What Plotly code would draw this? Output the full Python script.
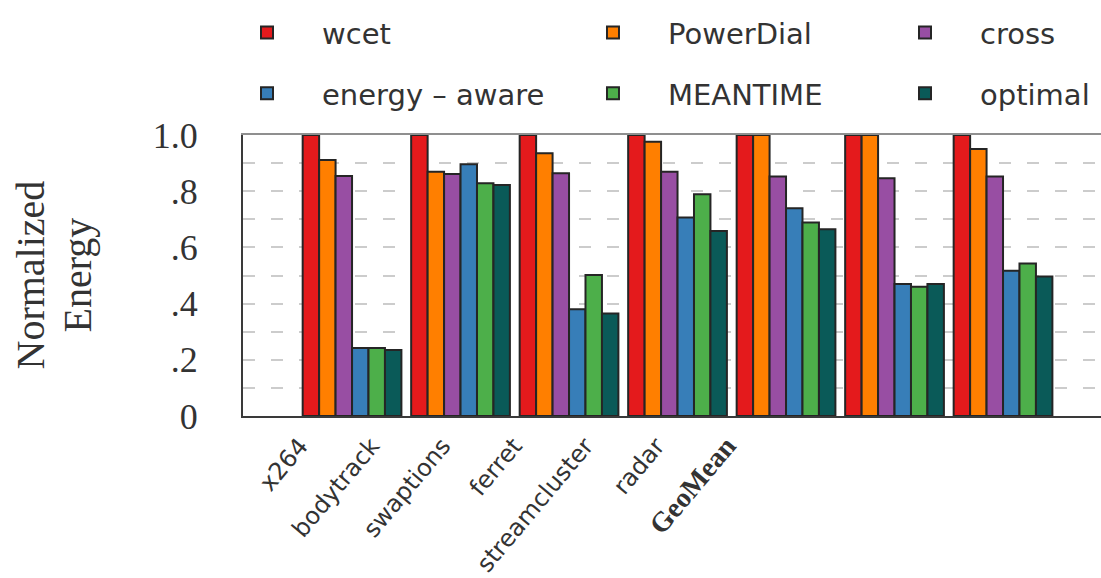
import plotly.graph_objects as go

categories = ["x264", "bodytrack", "swaptions", "ferret", "streamcluster", "radar", "GeoMean"]
tick_labels = ["x264", "bodytrack", "swaptions", "ferret", "streamcluster", "radar",
               "<span style=\"font-family:'Liberation Serif';font-size:28px\"><b>GeoMean</b></span>"]

series_names = ["wcet", "PowerDial", "cross", "energy \u2013 aware", "MEANTIME", "optimal"]
wcet = [1.0, 1.0, 1.0, 1.0, 1.0, 1.0, 1.0]
powerdial = [0.911, 0.869, 0.935, 0.976, 1.0, 1.0, 0.950]
cross = [0.854, 0.861, 0.864, 0.869, 0.852, 0.846, 0.852]
energy_aware = [0.242, 0.896, 0.380, 0.706, 0.739, 0.470, 0.517]
meantime = [0.242, 0.828, 0.502, 0.789, 0.689, 0.460, 0.543]
optimal = [0.235, 0.822, 0.365, 0.658, 0.665, 0.470, 0.496]
series_values = [wcet, powerdial, cross, energy_aware, meantime, optimal]
colors = ["#e41a1c", "#ff7f00", "#984ea3", "#377eb8", "#4daf4a", "#0a5a58"]
legend_ids = ["legend", "legend2", "legend3", "legend", "legend2", "legend3"]

y_ticks = [0, 0.2, 0.4, 0.6, 0.8, 1.0]
y_ticktext = ["0", ".2", ".4", ".6", ".8", "1.0"]
y_title_lines = ["Normalized", "Energy"]

xpos = list(range(len(categories)))

fig = go.Figure()
for name, vals, col, lg in zip(series_names, series_values, colors, legend_ids):
    fig.add_trace(go.Bar(
        x=xpos, y=vals, name=name, legend=lg, legendgroup=name,
        marker=dict(color=col, line=dict(color="#252525", width=2)),
    ))

# carriers for the tick-label axis and the top frame axis (no visible marks)
fig.add_trace(go.Scatter(x=xpos, y=[None] * len(xpos), xaxis="x2", mode="markers",
                         showlegend=False, hoverinfo="skip"))
fig.add_trace(go.Scatter(x=xpos, y=[None] * len(xpos), xaxis="x3", mode="markers",
                         showlegend=False, hoverinfo="skip"))

SERIF = "Liberation Serif"
SANS = "DejaVu Sans"
grid_style = dict(gridcolor="#cccccc", griddash="12px,16px", gridwidth=1.5)

legend_common = dict(
    y=1.455, yanchor="top", xanchor="left", orientation="v",
    bgcolor="rgba(0,0,0,0)", font=dict(family=SANS, size=29, color="#333333"),
    tracegroupgap=20, itemwidth=100,
)

fig.update_layout(
    width=1101, height=578,
    margin=dict(l=243, r=0, t=135, b=162, autoexpand=False),
    paper_bgcolor="white", plot_bgcolor="white",
    barmode="group", bargap=0.09, bargroupgap=0.0,
    legend=dict(x=-0.0361, **legend_common),
    legend2=dict(x=0.3671, **legend_common),
    legend3=dict(x=0.7308, **legend_common),
    xaxis=dict(
        range=[-1.005, 6.903], showticklabels=False, ticks="", automargin=False,
        showline=True, mirror=False, linecolor="#3a3a3a", linewidth=2,
        showgrid=False, zeroline=False,
    ),
    xaxis2=dict(
        overlaying="x", anchor="y", side="bottom", automargin=False,
        range=[-0.8, 11.23], tickvals=xpos, ticktext=tick_labels,
        tickangle=-50, tickfont=dict(family=SANS, size=24, color="#333333"),
        ticklabelstandoff=10,
        showline=False, showgrid=False, zeroline=False, ticks="",
    ),
    xaxis3=dict(
        overlaying="x", anchor="y", side="top", range=[-1.005, 6.903], automargin=False,
        showticklabels=False, ticks="", showline=True, linecolor="#8f8f8f", linewidth=2,
        showgrid=False, zeroline=False,
    ),
    yaxis=dict(
        range=[0, 1.0], tickvals=y_ticks, ticktext=y_ticktext, automargin=False,
        tickfont=dict(family=SERIF, size=36, color="#333333"),
        ticklabelstandoff=36, ticks="",
        showline=True, linecolor="#3a3a3a", linewidth=2,
        zeroline=False, showgrid=True, **grid_style,
        minor=dict(dtick=0.1, showgrid=True, ticks="", **grid_style),
    ),
)

for i, line in enumerate(y_title_lines):
    fig.add_annotation(
        text=line, textangle=-90, xref="paper", yref="paper",
        x=(30 + 47 * i - 243) / 858, y=0.5, xanchor="center", yanchor="middle",
        showarrow=False, font=dict(family=SERIF, size=40, color="#333333"),
    )

fig.write_html("out.html")
